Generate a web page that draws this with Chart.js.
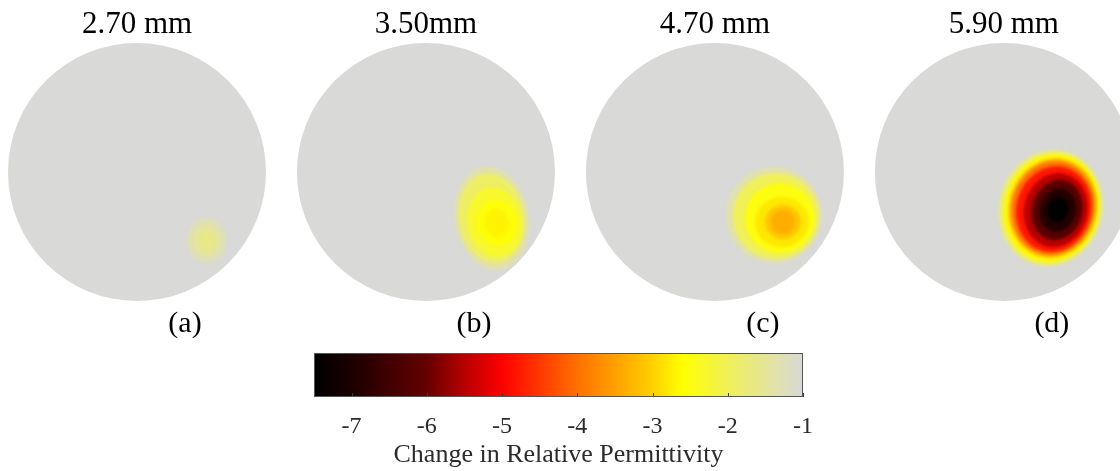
<!DOCTYPE html>
<html>
<head>
<meta charset="utf-8">
<script src="https://cdn.jsdelivr.net/npm/chart.js@4.4.1/dist/chart.umd.min.js"></script>
<style>
  body { margin:0; background:#fff; width:1120px; height:471px; overflow:hidden; position:relative;
         font-family:"Liberation Serif","Times New Roman",serif; }
  canvas { position:absolute; }
  #main { left:0; top:0; }
  #cbar { left:300px; top:340px; }
  .lbl { position:absolute; transform:translateX(-50%); white-space:nowrap; color:#000; line-height:1; }
  .ttl { font-size:31px; top:7px; }
  .sub { font-size:30px; top:307px; }
</style>
</head>
<body>
<canvas id="main" width="1120" height="471"></canvas>
<canvas id="cbar" width="530" height="131"></canvas>
<script>
const panelTitles = ['2.70 mm', '3.50mm', '4.70 mm', '5.90 mm'];
const panelLabels = ['(a)', '(b)', '(c)', '(d)'];
const backgroundValue = -1;

// colour scale (value -> colour)
const cmapValues = [-7.5, -7, -6, -5.5, -5, -4, -3, -2.6, -2, -1];
const cmapColors = ['#000000', '#1c0000', '#660000', '#b80000', '#ff0000', '#ff7000', '#ffd000', '#ffff00', '#f0f058', '#d9d9d8'];
const cbTicks = [-7, -6, -5, -4, -3, -2, -1];

// contour levels of each reconstruction, outer to inner.
// centre offset and half axes are in electrode radii, tilt in degrees
const valuesA = [-1.25, -1.5, -1.65];
const cxA = [0.54, 0.54, 0.545];
const cyA = [-0.53, -0.53, -0.53];
const rxA = [0.155, 0.105, 0.055];
const ryA = [0.175, 0.12, 0.065];
const tiltA = 0;

const valuesB = [-1.35, -1.9, -2.3, -2.55, -2.7];
const cxB = [0.51, 0.51, 0.535, 0.55, 0.55];
const cyB = [-0.357, -0.357, -0.388, -0.395, -0.395];
const rxB = [0.287, 0.256, 0.209, 0.155, 0.093];
const ryB = [0.403, 0.349, 0.271, 0.178, 0.109];
const tiltB = -10;

const valuesC = [-1.35, -2.0, -2.5, -2.8, -3.1, -3.35];
const cxC = [0.457, 0.473, 0.504, 0.519, 0.527, 0.527];
const cyC = [-0.333, -0.341, -0.357, -0.388, -0.388, -0.388];
const rxC = [0.372, 0.333, 0.271, 0.209, 0.14, 0.093];
const ryC = [0.372, 0.333, 0.271, 0.194, 0.132, 0.093];
const tiltC = 0;

const valuesD = [-1.3, -2.0, -2.65, -3.3, -4.0, -4.8, -5.5, -6.2, -6.9, -7.5];
const cxD = [0.364, 0.364, 0.372, 0.38, 0.38, 0.388, 0.403, 0.414, 0.419, 0.419];
const cyD = [-0.279, -0.279, -0.279, -0.279, -0.279, -0.287, -0.295, -0.295, -0.295, -0.295];
const rxD = [0.411, 0.388, 0.364, 0.341, 0.318, 0.29, 0.245, 0.195, 0.14, 0.08];
const ryD = [0.465, 0.442, 0.419, 0.388, 0.364, 0.335, 0.29, 0.235, 0.17, 0.095];
const tiltD = 15;

// layout
const unit = 129;          // px per electrode radius
const panelGap = 2.24;     // centre to centre, in radii
const firstX = 137, midY = 172;
const W = 1120, H = 471;
const panelCentres = panelTitles.map((t, i) => i * panelGap);

function hexRgb(h) {
  return [parseInt(h.slice(1, 3), 16), parseInt(h.slice(3, 5), 16), parseInt(h.slice(5, 7), 16)];
}
function colorAt(v) {
  const n = cmapValues.length;
  v = Math.max(cmapValues[0], Math.min(cmapValues[n - 1], v));
  for (let i = 1; i < n; i++) {
    if (v <= cmapValues[i]) {
      const t = (v - cmapValues[i - 1]) / (cmapValues[i] - cmapValues[i - 1]);
      const a = hexRgb(cmapColors[i - 1]), b = hexRgb(cmapColors[i]);
      const c = a.map((x, k) => Math.round(x + (b[k] - x) * t));
      return 'rgb(' + c.join(',') + ')';
    }
  }
  return cmapColors[n - 1];
}

function blobDataset(panel, values, cx, cy, rx, ry, tilt) {
  return {
    label: panelLabels[panel],
    panel: panel,
    tilt: tilt,
    data: values.map((v, i) => ({x: panelCentres[panel] + cx[i], y: cy[i], v: v, rx: rx[i], ry: ry[i]})),
    pointRadius: 0,
    pointHoverRadius: 0
  };
}

function unitPx(chart) {
  const xs = chart.scales.x;
  return xs.getPixelForValue(1) - xs.getPixelForValue(0);
}

// fills each contour level as an ellipse, clipped to its electrode disc
const blobPlugin = {
  id: 'blobs',
  afterDatasetsDraw(chart) {
    const ctx = chart.ctx;
    const xs = chart.scales.x, ys = chart.scales.y;
    const ux = unitPx(chart);
    const uy = ys.getPixelForValue(0) - ys.getPixelForValue(1);
    chart.data.datasets.forEach((ds, di) => {
      if (ds.panel === undefined) return;
      const meta = chart.getDatasetMeta(di);
      ctx.save();
      ctx.beginPath();
      ctx.arc(xs.getPixelForValue(panelCentres[ds.panel]), ys.getPixelForValue(0), ux, 0, 2 * Math.PI);
      ctx.clip();
      ctx.filter = 'blur(1.8px)';
      meta.data.forEach((el, i) => {
        const p = ds.data[i];
        ctx.beginPath();
        ctx.ellipse(el.x, el.y, p.rx * ux, p.ry * uy, ds.tilt * Math.PI / 180, 0, 2 * Math.PI);
        ctx.fillStyle = colorAt(p.v);
        ctx.fill();
      });
      ctx.restore();
    });
  }
};

const mainChart = new Chart(document.getElementById('main'), {
  type: 'scatter',
  data: {
    datasets: [
      {
        label: 'electrode',
        data: panelCentres.map(x => ({x: x, y: 0})),
        pointRadius: c => unitPx(c.chart),
        pointHoverRadius: c => unitPx(c.chart),
        backgroundColor: colorAt(backgroundValue),
        borderWidth: 0
      },
      blobDataset(0, valuesA, cxA, cyA, rxA, ryA, tiltA),
      blobDataset(1, valuesB, cxB, cyB, rxB, ryB, tiltB),
      blobDataset(2, valuesC, cxC, cyC, rxC, ryC, tiltC),
      blobDataset(3, valuesD, cxD, cyD, rxD, ryD, tiltD)
    ]
  },
  options: {
    responsive: false,
    animation: false,
    events: [],
    layout: {padding: 0},
    plugins: {legend: {display: false}, tooltip: {enabled: false}},
    scales: {
      x: {type: 'linear', display: false, min: -firstX / unit, max: (W - firstX) / unit},
      y: {type: 'linear', display: false, min: (midY - H) / unit, max: midY / unit}
    }
  },
  plugins: [blobPlugin]
});

// titles and panel letters
panelTitles.forEach((t, i) => {
  const px = mainChart.scales.x.getPixelForValue(panelCentres[i]);
  const d = document.createElement('div');
  d.className = 'lbl ttl';
  d.style.left = px + 'px';
  d.textContent = t;
  document.body.appendChild(d);
  const s = document.createElement('div');
  s.className = 'lbl sub';
  s.style.left = (px + 48) + 'px';
  s.textContent = panelLabels[i];
  document.body.appendChild(s);
});

// colour bar frame and inward tick marks
const cbFrame = {
  id: 'cbFrame',
  afterDatasetsDraw(chart) {
    const ctx = chart.ctx, a = chart.chartArea, xs = chart.scales.x;
    ctx.save();
    ctx.strokeStyle = '#3a3a3a';
    ctx.lineWidth = 1;
    cbTicks.forEach(v => {
      const x = Math.round(xs.getPixelForValue(v)) + 0.5;
      ctx.beginPath();
      ctx.moveTo(x, a.bottom);
      ctx.lineTo(x, a.bottom - 4);
      ctx.stroke();
    });
    ctx.strokeStyle = '#555';
    ctx.strokeRect(Math.round(a.left) + 0.5, Math.round(a.top) + 0.5, Math.round(a.right - a.left) - 1, Math.round(a.bottom - a.top) - 1);
    ctx.restore();
  }
};

const cbMin = cmapValues[0], cbMax = cmapValues[cmapValues.length - 1];
const serif = '"Liberation Serif","Times New Roman",serif';

new Chart(document.getElementById('cbar'), {
  type: 'bar',
  data: {
    labels: ['scale'],
    datasets: [{
      data: [[cbMin, cbMax]],
      barPercentage: 1,
      categoryPercentage: 1,
      borderWidth: 0,
      backgroundColor: c => {
        const xs = c.chart.scales.x;
        if (!c.chart.chartArea) return cmapColors[0];
        const x0 = xs.getPixelForValue(cbMin), x1 = xs.getPixelForValue(cbMax);
        const g = c.chart.ctx.createLinearGradient(x0, 0, x1, 0);
        cmapValues.forEach((v, i) => g.addColorStop((v - cbMin) / (cbMax - cbMin), cmapColors[i]));
        return g;
      }
    }]
  },
  options: {
    indexAxis: 'y',
    responsive: false,
    animation: false,
    events: [],
    layout: {padding: {left: 14, right: 27, top: 13, bottom: 0}},
    plugins: {legend: {display: false}, tooltip: {enabled: false}},
    scales: {
      x: {
        type: 'linear', min: cbMin, max: cbMax,
        afterBuildTicks: s => { s.ticks = cbTicks.map(v => ({value: v})); },
        afterFit: s => { s.height = 74; },
        grid: {display: false, drawTicks: false},
        border: {display: false},
        ticks: {color: '#2b2b2b', font: {family: serif, size: 24}, padding: 15},
        title: {display: true, text: 'Change in Relative Permittivity', color: '#2b2b2b',
                font: {family: serif, size: 26}, padding: {top: 0, bottom: 0}}
      },
      y: {display: false}
    }
  },
  plugins: [cbFrame]
});
</script>
</body>
</html>
